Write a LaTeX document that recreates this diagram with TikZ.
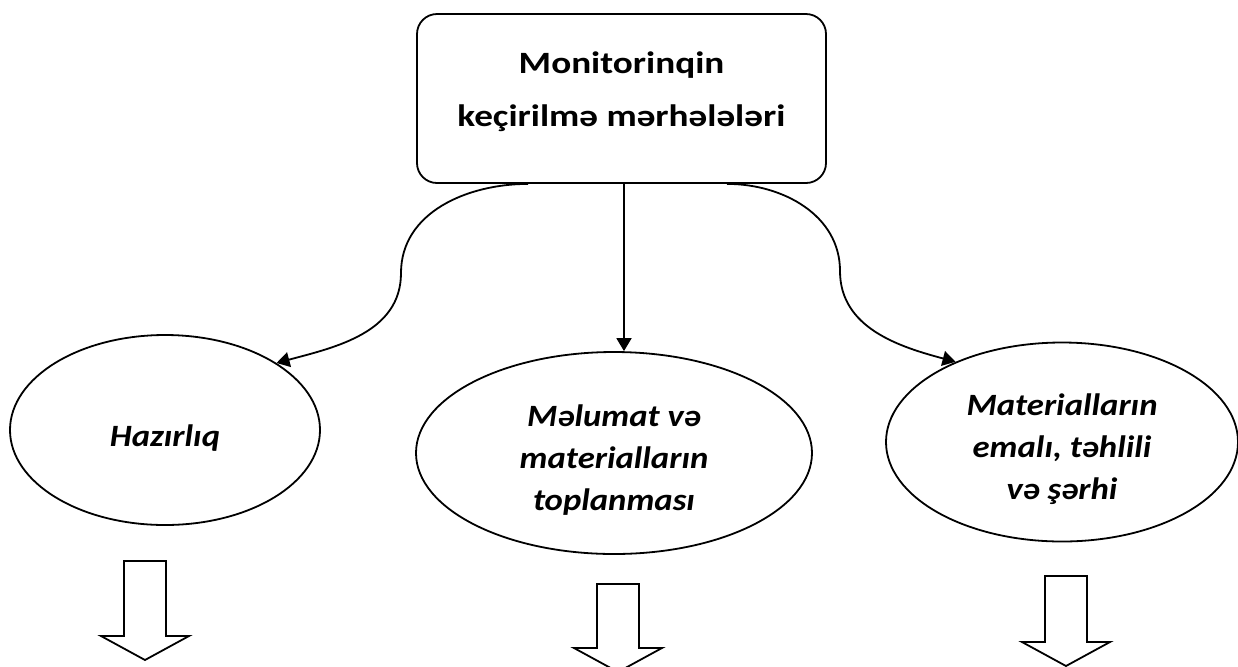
\documentclass[tikz,border=0pt]{standalone}
\usepackage{fontspec}
\setmainfont{Carlito}
\newfontfamily\headfont{Carlito}[FakeStretch=1.2]
\newfontfamily\stagefont{Carlito}[FakeStretch=1.12]
\usetikzlibrary{arrows.meta,shapes.geometric}

\begin{document}
\begin{tikzpicture}[x=0.5pt,y=-0.5pt,>={Triangle[length=6.5pt,width=7.5pt]},line width=0.9pt,
 box/.style={draw,rounded corners=10pt,minimum width=204.5pt,minimum height=84.5pt,align=center,
  font=\headfont\bfseries\fontsize{15.5}{26.5}\selectfont,text depth=9.5pt},
 oval/.style={draw,ellipse,inner sep=0pt,align=center,font=\stagefont\bfseries\itshape\fontsize{15.5}{21}\selectfont}]
\useasboundingbox (0,0) rectangle (1238,666);
\node[box](top) at (621.5,98.5){Monitorinqin\\keçirilmə mərhələləri};
\node[oval,minimum width=155pt,minimum height=95pt,text height=18.5pt](prep) at (165,430){Hazırlıq};
\node[oval,minimum width=198pt,minimum height=101pt,text height=60pt](collect) at (614,453){Məlumat və\\materialların\\toplanması};
\node[oval,minimum width=176pt,minimum height=99.5pt,text height=60pt](proc) at (1062,442){Materialların\\emalı, təhlili\\və şərhi};
\coordinate (b1) at (401,273);
\coordinate (b3) at (840,271);
\coordinate (m) at ([xshift=1.25pt]top.south);
\draw[->]([xshift=-46.75pt]top.south) to[out=180,in=90] (b1) to[out=-90,in=15] (prep.31.7);
\draw[->](m) -- (m |- collect.north);
\draw[->]([xshift=52.75pt]top.south) to[out=0,in=90] (b3) to[out=-90,in=165] (proc.143.3);
% hollow block arrows under the stages
\foreach \x/\y/\l in {145/561/99,618/584/88,1066/576/90}
 \draw (\x-21,\y) -- ++(42,0) -- ++(0,\l-24) -- ++(23,0) -- (\x,\y+\l) -- ++(-44,-24) -- ++(23,0) -- cycle;
\end{tikzpicture}
\end{document}
